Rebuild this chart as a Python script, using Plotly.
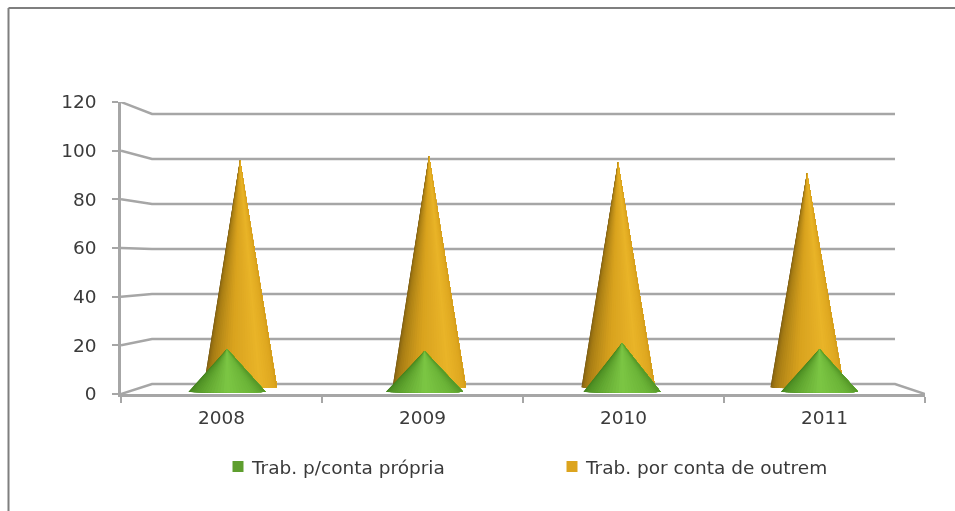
import math
import plotly.graph_objects as go

years = ["2008", "2009", "2010", "2011"]
conta_propria = [18.5, 17.7, 21.0, 18.5]
conta_outrem = [96.3, 98.0, 95.5, 91.0]
y_ticks = [0, 20, 40, 60, 80, 100, 120]
names = ["Trab. p/conta própria", "Trab. por conta de outrem"]

W, H = 955, 511
L, R, T, B = 121, 925, 102, 394
PX_X = (R - L) / 4
PX_Y = (B - T) / 120

GRID = "#a6a6a6"
TEXT = "#3a3a3a"
ORANGE_STOPS = [(0, "#6e5210"), (0.18, "#a67c14"), (0.42, "#d8a21e"), (0.68, "#e9b428"), (0.9, "#dca41e"), (1, "#c08c18")]
GREEN_STOPS = [(0, "#3f7d1c"), (0.25, "#5b9f2c"), (0.5, "#7cc644"), (0.72, "#6cb538"), (1, "#4c8c22")]


def colour(stops, t):
    for (a, ca), (b, cb) in zip(stops, stops[1:]):
        if t <= b:
            f = (t - a) / (b - a)
            rgb = [round(int(ca[i:i + 2], 16) * (1 - f) + int(cb[i:i + 2], 16) * f) for i in (1, 3, 5)]
            return "rgb(%d,%d,%d)" % tuple(rgb)
    return stops[-1][1]


def back_y(v):
    return (10 + 2.25 * v) / PX_Y


def cone_traces(values, x0, dx, half, base, depth, stops, n=36):
    # Each layer covers the rest of the cone, so no seams show between colour bands.
    out = []
    for k in range(n):
        arc = [math.pi * j / n for j in range(k, n + 1)]
        xs, ys = [], []
        for i, v in enumerate(values):
            cx = x0 + dx * i
            xs += [cx] + [cx - half * math.cos(a) for a in arc] + [cx, None]
            ys += [v] + [base - depth * math.sin(a) for a in arc] + [v, None]
        c = colour(stops, (k + 0.5) / n)
        out.append(go.Scatter(x=xs, y=ys, mode="lines", fill="toself", fillcolor=c,
                              line=dict(width=0), showlegend=False, hoverinfo="skip"))
    return out


fig = go.Figure()

gx, gy = [], []
left = 31 / PX_X
right = 4 - 30 / PX_X
for v in y_ticks:
    gx += [0, left, right, None] if v else [0, left, right, 4, None]
    gy += [v, back_y(v), back_y(v), None] if v else [0, back_y(0), back_y(0), 0, None]
fig.add_trace(go.Scatter(x=gx, y=gy, mode="lines", line=dict(color=GRID, width=2.5),
                         showlegend=False, hoverinfo="skip"))

for t in cone_traces(conta_outrem, (240 - L) / PX_X, 189 / PX_X, 37 / PX_X, 2.9, 0.6, ORANGE_STOPS):
    fig.add_trace(t)
for t in cone_traces(conta_propria, (227 - L) / PX_X, 197.5 / PX_X, 38.5 / PX_X, 0.9, 0.3, GREEN_STOPS):
    fig.add_trace(t)

for name, c, leg in zip(names, ["#5e9e2e", "#dca41e"], ["legend", "legend2"]):
    fig.add_trace(go.Scatter(x=[None], y=[None], mode="markers", name=name, legend=leg,
                             marker=dict(symbol="square", size=11, color=c)))

font = "DejaVu Sans"
SIZE = 18.5
LEG = dict(xanchor="left", y=(B - 467) / (B - T), yanchor="middle", font=dict(size=SIZE, color=TEXT),
           bgcolor="rgba(0,0,0,0)", borderwidth=0)
fig.update_layout(
    width=W, height=H, autosize=False,
    margin=dict(l=L, r=W - R, t=T, b=H - B, pad=0),
    paper_bgcolor="white", plot_bgcolor="white",
    font=dict(family=font, size=SIZE, color=TEXT),
    xaxis=dict(range=[0, 4], tickmode="array", tickvals=[i + 0.5 for i in range(4)], ticktext=years,
               ticks="", showgrid=False, zeroline=False, showline=True, linecolor=GRID, linewidth=2.5,
               tickfont=dict(size=SIZE, color=TEXT), ticklabelstandoff=5,
               minor=dict(tickmode="array", tickvals=[0, 1, 2, 3, 4], ticks="outside", ticklen=6,
                          tickcolor=GRID, tickwidth=2, showgrid=False)),
    yaxis=dict(range=[0, 120], tickmode="array", tickvals=y_ticks, ticks="outside", ticklen=6,
               tickcolor=GRID, tickwidth=2, showgrid=False, zeroline=False, showline=True,
               linecolor=GRID, linewidth=2.5, tickfont=dict(size=SIZE, color=TEXT), ticklabelstandoff=12),
    legend=dict(x=(212 - L) / (R - L), **LEG),
    legend2=dict(x=(546 - L) / (R - L), **LEG),
    shapes=[dict(type="line", xref="paper", yref="paper",
                 x0=(8.5 - L) / (R - L), x1=(W - L) / (R - L),
                 y0=(B - 8) / (B - T), y1=(B - 8) / (B - T), line=dict(color="#7f7f7f", width=2)),
            dict(type="line", xref="paper", yref="paper",
                 x0=(8.5 - L) / (R - L), x1=(8.5 - L) / (R - L),
                 y0=(B - 8) / (B - T), y1=(B - H) / (B - T), line=dict(color="#7f7f7f", width=2))],
)

fig.write_html(
    "out.html",
    config={"displayModeBar": False},
    post_script="""
document.body.style.margin='0';document.body.style.overflow='hidden';
document.querySelectorAll('.legendsymbols').forEach(function(g){g.setAttribute('transform','translate(6,0)');});
document.querySelector('.js-plotly-plot').style.filter='blur(0.5px)';
""",
)
